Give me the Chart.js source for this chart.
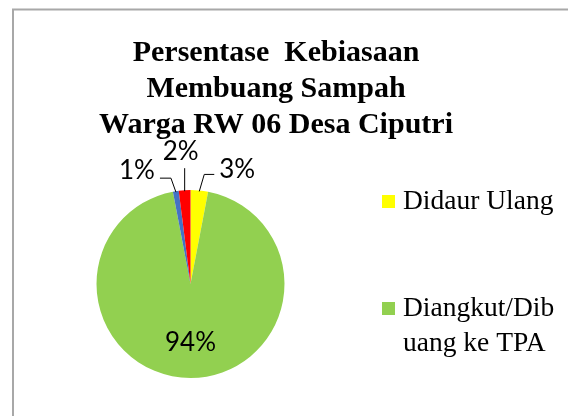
<!DOCTYPE html>
<html>
<head>
<meta charset="utf-8">
<script src="https://cdn.jsdelivr.net/npm/chart.js@4.4.0/dist/chart.umd.min.js"></script>
<style>
  html, body { margin: 0; padding: 0; background: #fff; }
  #wrap { width: 568px; height: 416px; }
</style>
</head>
<body>
<div id="wrap"><canvas id="c" width="568" height="416"></canvas></div>
<script>
// ---- data ----
const titleLines = ["Persentase  Kebiasaan", "Membuang Sampah", "Warga RW 06 Desa Ciputri"];
const categories = ["Didaur Ulang", "Diangkut/Dibuang ke TPA", "Dibakar", "Lainnya"];
const values = [3, 94, 1, 2];
const valueLabels = ["3%", "94%", "1%", "2%"];
const sliceColors = ["#FFFF00", "#92D050", "#4472C4", "#FF0000"];

// ---- styles (label callouts: elbow offset from slice edge, tail length) ----
const callout = {
  0: { elbow: [5, -17], tail: 10 },
  2: { elbow: [-5, -14], tail: -11 },
  3: { elbow: [0, -23], tail: 0 }
};

const decorPlugin = {
  id: 'decor',
  afterDraw(chart) {
    const ctx = chart.ctx;
    ctx.save();
    // frame
    ctx.strokeStyle = '#a8a8a8';
    ctx.lineWidth = 2;
    ctx.beginPath();
    ctx.moveTo(13, 416); ctx.lineTo(13, 9.5); ctx.lineTo(568, 9.5);
    ctx.stroke();

    // title
    ctx.fillStyle = '#000';
    ctx.font = 'bold 30px "Liberation Serif", "Times New Roman", serif';
    ctx.textAlign = 'center';
    ctx.textBaseline = 'alphabetic';
    const tb = [61, 97, 133];
    titleLines.forEach((t, i) => ctx.fillText(t, 276, tb[i]));

    // legend (custom, wraps long labels; only entries fitting the canvas)
    ctx.font = '27.5px "Liberation Serif", "Times New Roman", serif';
    ctx.textAlign = 'left';
    ctx.textBaseline = 'middle';
    const maxW = 158, lx = 403, sq = 12;
    let y = 201;
    categories.forEach((cat, i) => {
      const lines = [];
      let cur = '';
      for (const ch of cat) {
        if (ctx.measureText(cur + ch).width > maxW && cur.length) {
          lines.push(cur.trimEnd());
          cur = ch === ' ' ? '' : ch;
        } else cur += ch;
      }
      if (cur) lines.push(cur);
      if (y + 10 > chart.height) return;
      ctx.fillStyle = sliceColors[i];
      ctx.fillRect(382, y - sq / 2, sq + 1, sq + 1);
      ctx.fillStyle = '#000';
      lines.forEach((ln, k) => ctx.fillText(ln, lx, y + 1 + k * 35));
      y += 107;
    });

    // data labels
    const meta = chart.getDatasetMeta(0);
    ctx.font = '26px Lato, "Open Sans", sans-serif';
    ctx.fillStyle = '#000';
    ctx.strokeStyle = '#000';
    ctx.lineWidth = 1;
    meta.data.forEach((arc, i) => {
      const p = arc.getProps(['x', 'y', 'startAngle', 'endAngle', 'outerRadius'], true);
      const mid = (p.startAngle + p.endAngle) / 2;
      const c = callout[i];
      if (!c) {
        const rr = p.outerRadius * 0.62;
        ctx.textAlign = 'center';
        ctx.textBaseline = 'middle';
        ctx.fillText(valueLabels[i], p.x + Math.cos(mid) * rr, p.y + Math.sin(mid) * rr);
        return;
      }
      const ax = p.x + Math.cos(mid) * (p.outerRadius - 1);
      const ay = p.y + Math.sin(mid) * (p.outerRadius - 1);
      const ex = ax + c.elbow[0], ey = ay + c.elbow[1];
      const tx = ex + c.tail;
      ctx.beginPath();
      ctx.moveTo(ax, ay); ctx.lineTo(ex, ey);
      if (c.tail) ctx.lineTo(tx, ey);
      ctx.stroke();
      if (c.tail > 0) {
        ctx.textAlign = 'left'; ctx.textBaseline = 'middle';
        ctx.fillText(valueLabels[i], tx + 5, ey - 5);
      } else if (c.tail < 0) {
        ctx.textAlign = 'right'; ctx.textBaseline = 'middle';
        ctx.fillText(valueLabels[i], tx - 5, ey - 8);
      } else {
        ctx.textAlign = 'center'; ctx.textBaseline = 'bottom';
        ctx.fillText(valueLabels[i], ex - 4, ey - 4);
      }
    });
    ctx.restore();
  }
};

new Chart(document.getElementById('c'), {
  type: 'pie',
  data: {
    labels: categories,
    datasets: [{
      data: values,
      backgroundColor: sliceColors,
      borderWidth: 0
    }]
  },
  options: {
    responsive: false,
    animation: false,
    layout: { padding: { left: 96, right: 283, top: 190, bottom: 38 } },
    plugins: {
      legend: { display: false },
      title: { display: false },
      tooltip: { enabled: false }
    }
  },
  plugins: [decorPlugin]
});
</script>
</body>
</html>
